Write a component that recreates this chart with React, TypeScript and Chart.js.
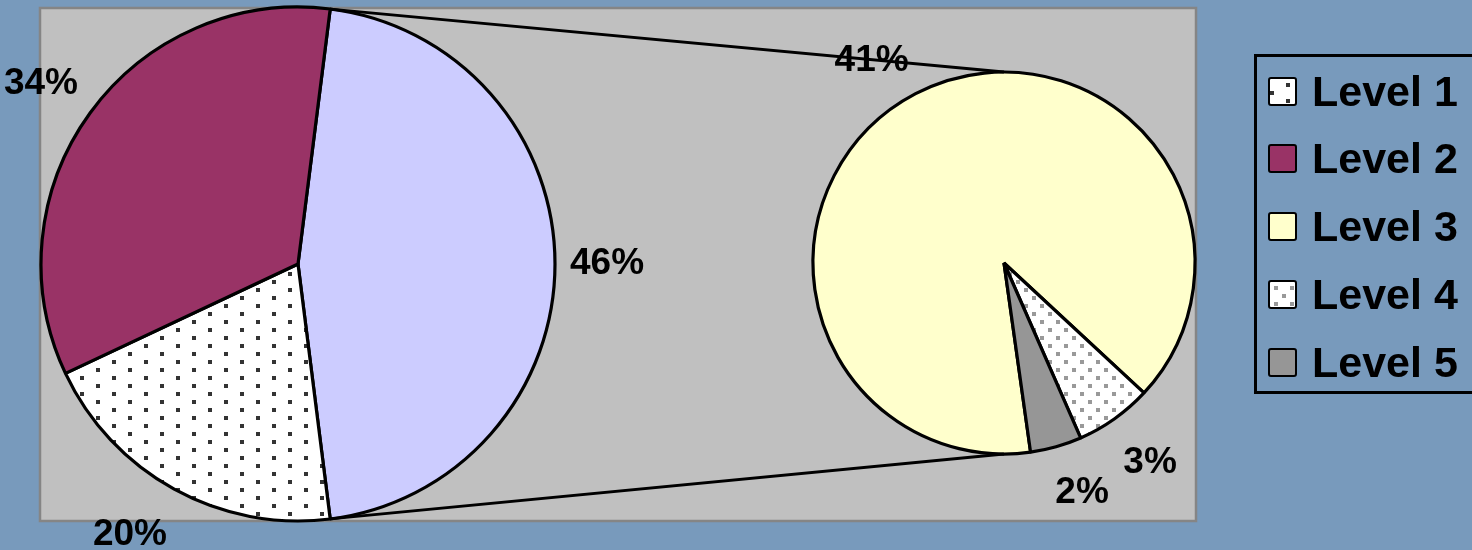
import React, { useEffect, useRef } from 'react';
import { Chart, registerables } from 'chart.js';

Chart.register(...registerables);

// ---- Data ----
const primaryCategories = ['Level 1', 'Level 2'];
const primaryValues = [20, 34];
const secondaryCategories = ['Level 3', 'Level 4', 'Level 5'];
const secondaryValues = [41, 3, 2];
const legendLabels = ['Level 1', 'Level 2', 'Level 3', 'Level 4', 'Level 5'];
const otherLabel = 'Other';

// ---- Styles ----
const FONT = '"Liberation Sans", Arial, Helvetica, sans-serif';
const BG = '#789ABC';

function makeTile(kind: 'level1' | 'level4'): HTMLCanvasElement {
  const c = document.createElement('canvas');
  if (kind === 'level1') {
    c.width = 32; c.height = 16;
    const g = c.getContext('2d')!;
    g.fillStyle = '#FFFFFF'; g.fillRect(0, 0, 32, 16);
    g.fillStyle = '#333333';
    g.fillRect(0, 0, 4, 4);
    g.fillRect(16, 8, 4, 4);
  } else {
    c.width = 16; c.height = 16;
    const g = c.getContext('2d')!;
    g.fillStyle = '#FFFFFF'; g.fillRect(0, 0, 16, 16);
    g.fillStyle = '#999999';
    g.fillRect(0, 0, 4, 4);
    g.fillRect(8, 8, 4, 4);
  }
  return c;
}

const sum = (a: number[]) => a.reduce((s, v) => s + v, 0);
const clamp1 = (v: number) => Math.max(-1, Math.min(1, v));

const labelPlugin = {
  id: 'pctLabels',
  afterDatasetsDraw(chart: any) {
    const ctx = chart.ctx;
    const ds = chart.data.datasets[0];
    const total = sum(primaryValues) + sum(secondaryValues);
    const meta = chart.getDatasetMeta(0);
    ctx.save();
    ctx.fillStyle = '#000';
    ctx.font = `bold 37px ${FONT}`;
    ctx.textAlign = 'center';
    ctx.textBaseline = 'middle';
    meta.data.forEach((arc: any, i: number) => {
      const p = arc.getProps(['x', 'y', 'startAngle', 'endAngle', 'outerRadius'], true);
      const mid = (p.startAngle + p.endAngle) / 2;
      const txt = Math.round((ds.data[i] / total) * 100) + '%';
      const c = Math.cos(mid);
      const s = Math.sin(mid);
      const d = p.outerRadius + 15;
      const ax = p.x + c * d;
      const ay = p.y + s * d;
      const halfW = ctx.measureText(txt).width / 2;
      const offX = clamp1(c * 3) * halfW;
      const offY = clamp1(s * 2) * (s > 0 ? 32 : 20);
      ctx.fillText(txt, ax + offX, ay + offY);
    });
    ctx.restore();
  },
};

const plotAreaPlugin = {
  id: 'plotArea',
  beforeDraw(chart: any) {
    const ctx = chart.ctx;
    ctx.save();
    ctx.fillStyle = '#C0C0C0';
    ctx.fillRect(40, 8, 1156, 513);
    ctx.strokeStyle = '#858585';
    ctx.lineWidth = 2.5;
    ctx.strokeRect(40, 8, 1156, 513);
    ctx.restore();
  },
};

export default function App() {
  const mainRef = useRef<HTMLCanvasElement | null>(null);
  const secRef = useRef<HTMLCanvasElement | null>(null);

  const tile1 = typeof document !== 'undefined' ? makeTile('level1').toDataURL() : '';
  const tile4 = typeof document !== 'undefined' ? makeTile('level4').toDataURL() : '';

  useEffect(() => {
    const mctx = mainRef.current!.getContext('2d')!;
    const sctx = secRef.current!.getContext('2d')!;
    const pat1 = mctx.createPattern(makeTile('level1'), 'repeat')!;
    const pat4 = sctx.createPattern(makeTile('level4'), 'repeat')!;

    const otherValue = sum(secondaryValues);
    const total = otherValue + sum(primaryValues);
    const mainRotation = 90 - (otherValue / total) * 180;

    const mainChart = new Chart(mainRef.current!, {
      type: 'pie',
      data: {
        labels: [otherLabel, ...primaryCategories],
        datasets: [{
          data: [otherValue, ...primaryValues],
          backgroundColor: ['#CCCCFF', pat1 as any, '#993366'],
          borderColor: '#000000',
          borderWidth: 3.2,
          radius: 257,
        } as any],
      },
      options: {
        responsive: false,
        animation: false,
        events: [],
        rotation: mainRotation,
        layout: { padding: { left: 40, right: 916, top: 6, bottom: 28 } },
        plugins: { legend: { display: false }, tooltip: { enabled: false } },
      },
      plugins: [plotAreaPlugin, labelPlugin],
    });

    const connectorPlugin = {
      id: 'connectors',
      afterDatasetsDraw(chart: any) {
        const ctx = chart.ctx;
        const other = mainChart.getDatasetMeta(0).data[0] as any;
        const o = other.getProps(['x', 'y', 'startAngle', 'endAngle', 'outerRadius'], true);
        const s = (chart.getDatasetMeta(0).data[0] as any).getProps(['x', 'y', 'outerRadius'], true);
        ctx.save();
        ctx.strokeStyle = '#000';
        ctx.lineWidth = 2.8;
        ctx.beginPath();
        ctx.moveTo(o.x + Math.cos(o.startAngle) * o.outerRadius, o.y + Math.sin(o.startAngle) * o.outerRadius);
        ctx.lineTo(s.x, s.y - s.outerRadius);
        ctx.moveTo(o.x + Math.cos(o.endAngle) * o.outerRadius, o.y + Math.sin(o.endAngle) * o.outerRadius);
        ctx.lineTo(s.x, s.y + s.outerRadius);
        ctx.stroke();
        ctx.restore();
      },
    };

    const secChart = new Chart(secRef.current!, {
      type: 'pie',
      data: {
        labels: secondaryCategories,
        datasets: [{
          data: secondaryValues,
          backgroundColor: ['#FFFFCC', pat4 as any, '#969696'],
          borderColor: '#000000',
          borderWidth: 3.2,
          radius: 191,
        } as any],
      },
      options: {
        responsive: false,
        animation: false,
        events: [],
        rotation: 172,
        layout: { padding: { left: 813, right: 277, top: 72, bottom: 96 } },
        plugins: { legend: { display: false }, tooltip: { enabled: false } },
      },
      plugins: [connectorPlugin, labelPlugin],
    });

    return () => {
      secChart.destroy();
      mainChart.destroy();
    };
  }, []);

  const swatchStyle = (i: number): React.CSSProperties => {
    const base: React.CSSProperties = {
      position: 'absolute',
      left: 1268,
      top: 0,
      width: 29,
      height: 29,
      boxSizing: 'border-box',
      border: '2px solid #000',
      borderRadius: 3,
    };
    if (i === 0) return { ...base, backgroundColor: '#fff', backgroundImage: `url(${tile1})`, backgroundPosition: '16px 4px' };
    if (i === 1) return { ...base, backgroundColor: '#993366' };
    if (i === 2) return { ...base, backgroundColor: '#FFFFCC' };
    if (i === 3) return { ...base, backgroundColor: '#fff', backgroundImage: `url(${tile4})`, backgroundPosition: '4px 4px' };
    return { ...base, backgroundColor: '#969696' };
  };

  const rowCenters = legendLabels.map((_, i) => 91 + i * 67.8);

  return (
    <div style={{ position: 'absolute', left: 0, top: 0, width: 1472, height: 550, overflow: 'hidden', background: BG }}>
      <canvas ref={mainRef} width={1472} height={550} style={{ position: 'absolute', left: 0, top: 0, width: 1472, height: 550 }} />
      <canvas ref={secRef} width={1472} height={550} style={{ position: 'absolute', left: 0, top: 0, width: 1472, height: 550 }} />
      <div style={{ position: 'absolute', left: 1254, top: 54, width: 260, height: 340, boxSizing: 'border-box', border: '3px solid #000' }} />
      {legendLabels.map((lab, i) => (
        <React.Fragment key={lab}>
          <div style={{ ...swatchStyle(i), top: rowCenters[i] - 14.5 }} />
          <div style={{
            position: 'absolute', left: 1312, top: rowCenters[i] - 21.5, height: 43,
            fontFamily: FONT, fontWeight: 'bold', fontSize: 43, lineHeight: '43px', color: '#000', whiteSpace: 'nowrap',
          }}>{lab}</div>
        </React.Fragment>
      ))}
    </div>
  );
}
